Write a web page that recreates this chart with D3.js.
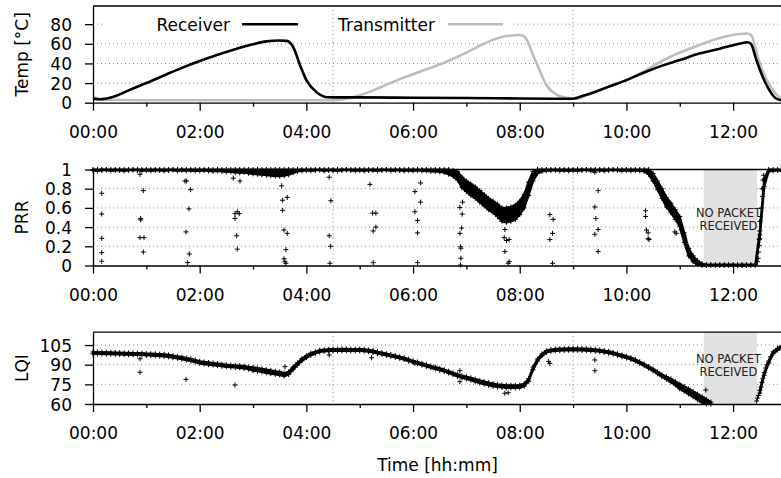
<!DOCTYPE html>
<html>
<head>
<meta charset="utf-8">
<script src="https://cdn.jsdelivr.net/npm/d3@7"></script>
<style>
  html, body { margin: 0; padding: 0; background: #fff; }
  svg { display: block; font-family: "DejaVu Sans", sans-serif; }
</style>
</head>
<body>
<svg id="chart" width="781" height="478"></svg>
<script>
// ---------------- data (time in minutes since start of run) ----------------
const hourTickMinutes = [0, 120, 240, 360, 480, 600, 720];
const hourTickLabels  = ["00:00", "02:00", "04:00", "06:00", "08:00", "10:00", "12:00"];
const minorTickMinutes = [60, 180, 300, 420, 540, 660];
const phaseMinutes = [270, 540];          // heating phase boundaries
const outageStart = 687, outageEnd = 747; // no packet received

const tempTicks = [0, 20, 40, 60, 80];
const prrTicks = [0, 0.2, 0.4, 0.6, 0.8, 1];
const prrTickLabels = ["0", "0.2", "0.4", "0.6", "0.8", "1"];
const lqiTicks = [60, 75, 90, 105];

// temperature of the two nodes
const receiverMinutes = [0, 8, 19, 45, 60, 83, 100, 120, 158, 180, 195, 210, 218, 225, 233, 240, 251, 258, 264, 300, 360, 420, 480, 525, 540, 548, 555, 578, 600, 622, 641, 660, 682, 705, 727, 736, 740, 746, 753, 760, 766, 772, 778];
const receiverTemp    = [4, 3.5, 5, 14.5, 20, 29, 35.5, 42.5, 54, 59.5, 62.5, 63.3, 63, 57, 38, 23, 11, 7, 5.5, 5.4, 5, 4.8, 4.3, 4, 4, 6, 8, 15.6, 23, 31.5, 38, 43.5, 50, 55, 60, 61.5, 60, 44, 27, 14, 6, 3, 2.5];
const transmitterMinutes = [0, 11, 60, 270, 280, 288, 296, 308, 323, 345, 360, 398, 420, 435, 450, 462, 470, 480, 484, 488, 495, 503, 510, 521, 533, 544, 555, 578, 600, 622, 641, 660, 682, 705, 727, 736, 741, 745, 750, 758, 767, 772, 778];
const transmitterTemp    = [6.5, 3, 2.5, 2.5, 3.2, 4.5, 6.5, 10, 15.5, 24, 29, 42, 51, 58, 64, 67.5, 68.5, 69, 68, 64, 48.5, 31.5, 18, 8.5, 5, 4, 7.5, 15.6, 23, 33, 43, 51, 58.7, 66, 70, 70.5, 68, 56, 40, 23, 10, 5.5, 3.5];

// PRR / LQI logged every 5 minutes: lower and upper edge of the dense cloud
const bandMinutes = d3.range(0, 776, 5);
const prrLow = [
  0.99, 0.985, 0.99, 0.995, 0.985, 0.99, 0.99, 0.985, 0.99, 0.995, 0.99, 0.985,
  0.99, 0.985, 0.99, 0.99, 0.985, 0.99, 0.995, 0.985, 0.99, 0.985, 0.99, 0.985,
  0.985, 0.99, 0.985, 0.98, 0.985, 0.98, 0.975, 0.975, 0.97, 0.965, 0.97, 0.96,
  0.955, 0.95, 0.945, 0.94, 0.935, 0.93, 0.93, 0.935, 0.945, 0.965, 0.98, 0.985,
  0.99, 0.985, 0.99, 0.995, 0.985, 0.99, 0.99, 0.985, 0.99, 0.995, 0.99, 0.985,
  0.99, 0.985, 0.99, 0.99, 0.985, 0.99, 0.995, 0.985, 0.99, 0.99, 0.985, 0.99,
  0.985, 0.99, 0.985, 0.985, 0.98, 0.98, 0.975, 0.97, 0.95, 0.93, 0.89, 0.81,
  0.77, 0.73, 0.70, 0.66, 0.62, 0.58, 0.55, 0.51, 0.46, 0.45, 0.46, 0.48,
  0.53, 0.60, 0.73, 0.88, 0.96, 0.98, 0.985, 0.99, 0.99, 0.985, 0.99, 0.985,
  0.99, 0.985, 0.99, 0.995, 0.985, 0.99, 0.99, 0.985, 0.99, 0.995, 0.99, 0.985,
  0.99, 0.985, 0.99, 0.985, 0.98, 0.95, 0.88, 0.79, 0.70, 0.61, 0.55, 0.48,
  0.41, 0.24, 0.10, 0.04, 0.01, 0, 0, 0, 0, 0, 0, 0,
  0, 0, 0, 0, 0, 0, 0.28, 0.82, 0.98, 0.985, 0.99, 0.985
];
const prrHigh = [
  1, 1, 1, 1, 1, 1, 1, 1, 1, 1, 1, 1,
  1, 1, 1, 1, 1, 1, 1, 1, 1, 1, 1, 1,
  1, 1, 1, 1, 1, 1, 1, 1, 1, 1, 1, 1,
  1, 1, 1, 1, 1, 1, 1, 1, 1, 1, 1, 1,
  1, 1, 1, 1, 1, 1, 1, 1, 1, 1, 1, 1,
  1, 1, 1, 1, 1, 1, 1, 1, 1, 1, 1, 1,
  1, 1, 1, 1, 1, 1, 1, 1, 1, 0.99, 0.98, 0.92,
  0.88, 0.85, 0.82, 0.78, 0.74, 0.70, 0.67, 0.64, 0.60, 0.60, 0.61, 0.63,
  0.67, 0.74, 0.87, 0.98, 1, 1, 1, 1, 1, 1, 1, 1,
  1, 1, 1, 1, 1, 1, 1, 1, 1, 1, 1, 1,
  1, 1, 1, 1, 1, 1, 0.96, 0.88, 0.80, 0.71, 0.65, 0.58,
  0.51, 0.34, 0.18, 0.10, 0.05, 0.02, 0.01, 0.01, 0.01, 0.01, 0.01, 0.01,
  0.01, 0.01, 0.01, 0.01, 0.01, 0.01, 0.36, 0.90, 1, 1, 1, 1
];
const lqiLow = [
  98.3, 98.3, 98.2, 98.1, 98.0, 97.9, 97.8, 97.7, 97.6, 97.5, 97.5, 97.4,
  97.1, 97.0, 96.8, 96.6, 96.4, 96.0, 95.3, 94.8, 94.2, 93.5, 92.8, 92.0,
  91.0, 90.5, 90.1, 89.7, 89.3, 88.8, 88.4, 88.1, 87.9, 87.6, 87.1, 86.5,
  85.5, 85.0, 84.4, 83.8, 83.2, 82.6, 82.1, 81.3, 82.5, 86.2, 89.6, 93.0,
  95.3, 97.2, 98.5, 99.7, 100.1, 100.3, 100.5, 100.5, 100.6, 100.6, 100.5, 100.5,
  100.5, 100.3, 99.9, 99.4, 98.5, 97.8, 97.1, 96.4, 95.6, 94.8, 93.9, 92.8,
  91.6, 90.7, 89.7, 88.7, 87.7, 86.8, 85.8, 84.8, 83.6, 82.4, 81.1, 80.0,
  79.1, 78.2, 77.0, 76.0, 75.1, 74.3, 73.5, 73.0, 72.6, 72.3, 72.2, 72.2,
  72.4, 73.5, 77.3, 86.2, 92.7, 96.8, 99.3, 100.2, 100.6, 100.8, 100.9, 101.0,
  101.0, 101.0, 100.9, 100.8, 100.6, 100.3, 99.9, 99.4, 98.8, 98.0, 97.1, 96.1,
  95.1, 94.0, 92.6, 90.9, 89.2, 87.3, 85.3, 83.0, 80.8, 78.8, 76.8, 74.4,
  71.6, 69.6, 67.6, 65.4, 63.2, 61.2, 60, 60, null, null, null, null,
  null, null, null, null, null, null, 68.4, 82.0, 91.2, 98.3, 101.1, 103.0
];
const lqiHigh = [
  99.7, 99.7, 99.6, 99.5, 99.4, 99.3, 99.2, 99.1, 99.0, 98.9, 98.9, 98.8,
  98.5, 98.4, 98.3, 98.1, 97.9, 97.5, 96.9, 96.4, 95.8, 95.1, 94.4, 93.6,
  92.6, 92.1, 91.7, 91.3, 90.9, 90.4, 90.0, 89.7, 89.5, 89.4, 88.9, 88.3,
  87.9, 87.4, 86.8, 86.2, 85.6, 85.0, 84.5, 83.5, 84.5, 88.2, 91.4, 94.6,
  96.9, 98.8, 99.9, 101.1, 101.5, 101.7, 101.9, 101.9, 102.0, 102.0, 101.9, 101.9,
  101.9, 101.7, 101.3, 100.8, 99.9, 99.2, 98.5, 97.8, 97.0, 96.2, 95.3, 94.2,
  93.0, 92.1, 91.1, 90.1, 89.1, 88.2, 87.2, 86.2, 85.0, 83.8, 82.7, 81.6,
  80.9, 80.0, 79.0, 78.0, 77.1, 76.3, 75.5, 75.0, 74.6, 74.3, 74.2, 74.2,
  74.4, 75.5, 79.3, 88.2, 94.3, 98.2, 100.7, 101.6, 102.0, 102.2, 102.3, 102.4,
  102.4, 102.4, 102.3, 102.2, 102.0, 101.7, 101.3, 100.8, 100.2, 99.4, 98.5, 97.5,
  96.5, 95.4, 94.0, 92.3, 90.6, 88.7, 86.7, 84.6, 82.4, 80.8, 79.2, 77.2,
  75.2, 73.4, 71.6, 69.6, 67.6, 65.6, 63.5, 61.5, null, null, null, null,
  null, null, null, null, null, null, 70.4, 84.0, 92.8, 99.7, 102.5, 104.4
];

// isolated PRR readings away from the dense cloud
const prrScatterMinutes = [
  9.8, 9.8, 9.8, 9.8, 9.8,
  52.9, 53.6, 53.6, 52.9, 57.4, 56.6, 56.6,
  103.4, 105.3, 109.8, 107.9, 104.6, 108.3, 106.5,
  157.8, 165.3, 159.7, 162.3, 164.5, 159.7, 161.6, 162.3,
  212.2, 213.3, 218.5, 213.3, 214.8, 218.5, 217, 214.8, 215.9, 217,
  265.7, 267.6, 265.7, 267.3, 266.5,
  311.5, 314.5, 318.2, 318.2, 315.2, 315.2,
  368.5, 362.1, 368.5, 362.1, 365.1, 365.1, 365.1,
  415.7, 412.7, 415.3, 414.6, 412.7, 413.4, 413.8, 413.8, 413.4,
  463.3, 462.5, 468.1, 465.2, 463.3, 468.1, 467,
  513.9, 517.6, 516.9, 513.9, 516.9,
  564.5, 568.2, 564.5, 565.6, 568.2, 564.5, 568.2,
  621.5, 621.5, 622.6, 624.4, 624.4, 625.5,
  654.4, 656, 661.6, 663.4, 665,
  747.4, 748.2, 748.5, 749.3, 749.3, 750, 750, 750.8, 751.9, 753, 752.6, 753.7, 754.5
];
const prrScatterValues = [
  0.752, 0.536, 0.283, 0.134, 0.044,
  0.95, 0.49, 0.475, 0.29, 0.29, 0.78, 0.14,
  0.88, 0.88, 0.79, 0.59, 0.35, 0.12, 0.03,
  0.91, 0.88, 0.54, 0.56, 0.54, 0.49, 0.31, 0.17,
  0.83, 0.68, 0.71, 0.575, 0.37, 0.335, 0.165, 0.07, 0.04, 0.023,
  0.92, 0.675, 0.31, 0.2, 0.023,
  0.845, 0.545, 0.545, 0.40, 0.36, 0.03,
  0.86, 0.77, 0.66, 0.56, 0.47, 0.34, 0.03,
  0.66, 0.605, 0.535, 0.39, 0.335, 0.195, 0.18, 0.075, 0.005,
  0.375, 0.29, 0.27, 0.26, 0.145, 0.04, 0.023,
  0.53, 0.48, 0.335, 0.27, 0.023,
  0.97, 0.78, 0.61, 0.49, 0.375, 0.325, 0.145,
  0.57, 0.51, 0.37, 0.34, 0.28, 0.27,
  0.35, 0.335, 0.37, 0.335, 0.31,
  0.04, 0.075, 0.14, 0.21, 0.27, 0.32, 0.46, 0.51, 0.60, 0.72, 0.80, 0.89, 0.94
];

// isolated LQI readings and the recovery after the outage
const lqiScatterMinutes = [52.9, 52.9, 104.6, 159.7, 215.9, 265.7, 313.4, 362.1, 412.7, 412.7, 463.3, 467, 512.5, 513.9, 564.5, 564.5, 689.3,
  746.5, 747.5, 748.5, 751.5, 752.5, 753.5, 756.5, 758, 762, 766, 772];
const lqiScatterValues  = [94.5, 84.2, 78.8, 74.5, 88.5, 97.4, 95.3, 91, 85.4, 77, 68.2, 68.6, 92.5, 91, 93.6, 85.4, 70.7,
  62.3, 64.5, 66.5, 73, 76.5, 79.6, 87.5, 90, 96, 100, 102.7];

// ---------------- layout ----------------
const svg = d3.select("#chart");
const X0 = 93, X1 = 782;
const FONT = 17;

const x = d3.scaleLinear().domain([0, 775]).range([X0, X1]);

const panels = {
  temp: { top: 6,     bottom: 102.7, domain: [0, 98.5] },
  prr:  { top: 169.5, bottom: 265.5, domain: [0, 1] },
  lqi:  { top: 332.2, bottom: 404,   domain: [60, 114.8] }
};
for (const k in panels) {
  const p = panels[k];
  p.y = d3.scaleLinear().domain(p.domain).range([p.bottom, p.top]);
}

const gridColor = "#8a8a8a";
const plus = "M-2.5,0H2.5M0,-2.5V2.5";

function drawGrid(p, values) {
  const g = svg.append("g");
  g.selectAll("line.h").data(values).join("line")
    .attr("x1", X0).attr("x2", X1)
    .attr("y1", d => p.y(d)).attr("y2", d => p.y(d))
    .attr("stroke", gridColor).attr("stroke-width", 1)
    .attr("stroke-dasharray", "1,3");
}
function drawPhaseLines(p) {
  svg.append("g").selectAll("line").data(phaseMinutes).join("line")
    .attr("x1", d => x(d)).attr("x2", d => x(d))
    .attr("y1", p.top).attr("y2", p.bottom)
    .attr("stroke", gridColor).attr("stroke-width", 1)
    .attr("stroke-dasharray", "1,3");
}
function drawAxes(p, ticks, labels, title) {
  // time axis
  const gx = svg.append("g").attr("transform", `translate(0,${p.bottom})`);
  gx.call(d3.axisBottom(x).tickValues(hourTickMinutes)
      .tickFormat((d, i) => hourTickLabels[i]).tickSizeInner(8).tickSizeOuter(0));
  gx.selectAll("text").attr("y", 35).attr("dy", null)
    .attr("font-size", FONT).attr("font-family", "DejaVu Sans").attr("fill", "#000");
  const gm = svg.append("g").attr("transform", `translate(0,${p.bottom})`);
  gm.call(d3.axisBottom(x).tickValues(minorTickMinutes).tickFormat("").tickSizeInner(4).tickSizeOuter(0));
  gm.select(".domain").remove();
  // value axis
  const gy = svg.append("g").attr("transform", `translate(${X0},0)`);
  gy.call(d3.axisLeft(p.y).tickValues(ticks)
      .tickFormat((d, i) => labels ? labels[i] : d).tickSizeInner(8).tickSizeOuter(0));
  gy.selectAll("text").attr("x", -21).attr("dy", 6)
    .attr("font-size", FONT).attr("font-family", "DejaVu Sans").attr("fill", "#000");
  svg.selectAll(".domain, .tick line").attr("stroke", "#000").attr("stroke-width", 1.3);
  // top border
  svg.append("line").attr("x1", X0).attr("x2", X1)
    .attr("y1", p.top).attr("y2", p.top)
    .attr("stroke", "#000").attr("stroke-width", 1.3);
  // axis title
  const cy = (p.top + p.bottom) / 2;
  svg.append("text").attr("transform", `translate(27.5,${cy}) rotate(-90)`)
    .attr("text-anchor", "middle").attr("font-size", FONT).text(title);
}
function drawOutage(p, textY) {
  svg.append("rect")
    .attr("x", x(outageStart)).attr("width", x(outageEnd) - x(outageStart))
    .attr("y", p.top).attr("height", p.bottom - p.top)
    .attr("fill", "#e1e1e1");
  const cx = (x(outageStart) + x(outageEnd)) / 2 - 2;
  ["NO PACKET", "RECEIVED"].forEach((t, i) => {
    svg.append("text").attr("x", cx).attr("y", textY + i * 13.7)
      .attr("text-anchor", "middle").attr("font-size", 11.5).attr("fill", "#222").text(t);
  });
}
function drawCloud(p, low, high, scatterM, scatterV) {
  const rows = bandMinutes.map((m, i) => ({ m, lo: low[i], hi: high[i] }));
  const area = d3.area().defined(d => d.lo != null)
    .x(d => x(d.m)).y0(d => p.y(d.lo)).y1(d => p.y(d.hi));
  svg.append("path").datum(rows).attr("d", area)
    .attr("fill", "#000").attr("stroke", "#000").attr("stroke-width", 2.2)
    .attr("stroke-linejoin", "round");
  const pts = [];
  rows.forEach(d => {
    if (d.lo != null) { pts.push([d.m, d.lo]); pts.push([d.m, d.hi]); }
  });
  scatterM.forEach((m, i) => pts.push([m, scatterV[i]]));
  svg.append("g").selectAll("path").data(pts).join("path")
    .attr("transform", d => `translate(${x(d[0])},${p.y(d[1])})`)
    .attr("d", plus).attr("stroke", "#000").attr("stroke-width", 1).attr("fill", "none");
}

// ---------------- temperature panel ----------------
const T = panels.temp;
drawGrid(T, [20, 40, 60, 80]);
// legend (opaque box over the grid)
svg.append("rect").attr("x", 104).attr("y", 13).attr("width", 408).attr("height", 23).attr("fill", "#fff");
drawPhaseLines(T);
const tempLine = d3.line().x(d => x(d[0])).y(d => T.y(d[1])).curve(d3.curveMonotoneX);
svg.append("path").datum(transmitterMinutes.map((m, i) => [m, transmitterTemp[i]]))
  .attr("d", tempLine).attr("fill", "none").attr("stroke", "#bdbdbd").attr("stroke-width", 2.6)
  .attr("stroke-linejoin", "round");
svg.append("path").datum(receiverMinutes.map((m, i) => [m, receiverTemp[i]]))
  .attr("d", tempLine).attr("fill", "none").attr("stroke", "#000").attr("stroke-width", 2.6)
  .attr("stroke-linejoin", "round");
svg.append("text").attr("x", 230).attr("y", 30.5).attr("text-anchor", "end").attr("font-size", FONT).text("Receiver");
svg.append("line").attr("x1", 242).attr("x2", 298).attr("y1", 24.3).attr("y2", 24.3)
  .attr("stroke", "#000").attr("stroke-width", 2.6);
svg.append("text").attr("x", 435).attr("y", 30.5).attr("text-anchor", "end").attr("font-size", FONT).text("Transmitter");
svg.append("line").attr("x1", 448).attr("x2", 503).attr("y1", 24.3).attr("y2", 24.3)
  .attr("stroke", "#bdbdbd").attr("stroke-width", 2.6);
drawAxes(T, tempTicks, null, "Temp [°C]");

// ---------------- PRR panel ----------------
const P = panels.prr;
drawGrid(P, [0.2, 0.4, 0.6, 0.8]);
drawPhaseLines(P);
drawOutage(P, 216.5);
drawCloud(P, prrLow, prrHigh, prrScatterMinutes, prrScatterValues);
drawAxes(P, prrTicks, prrTickLabels, "PRR");

// ---------------- LQI panel ----------------
const L = panels.lqi;
drawGrid(L, [75, 90, 105]);
drawPhaseLines(L);
drawOutage(L, 362.5);
drawCloud(L, lqiLow, lqiHigh, lqiScatterMinutes, lqiScatterValues);
drawAxes(L, lqiTicks, null, "LQI");

svg.append("text").attr("x", (X0 + X1) / 2).attr("y", 471)
  .attr("text-anchor", "middle").attr("font-size", FONT).text("Time [hh:mm]");
</script>
</body>
</html>
